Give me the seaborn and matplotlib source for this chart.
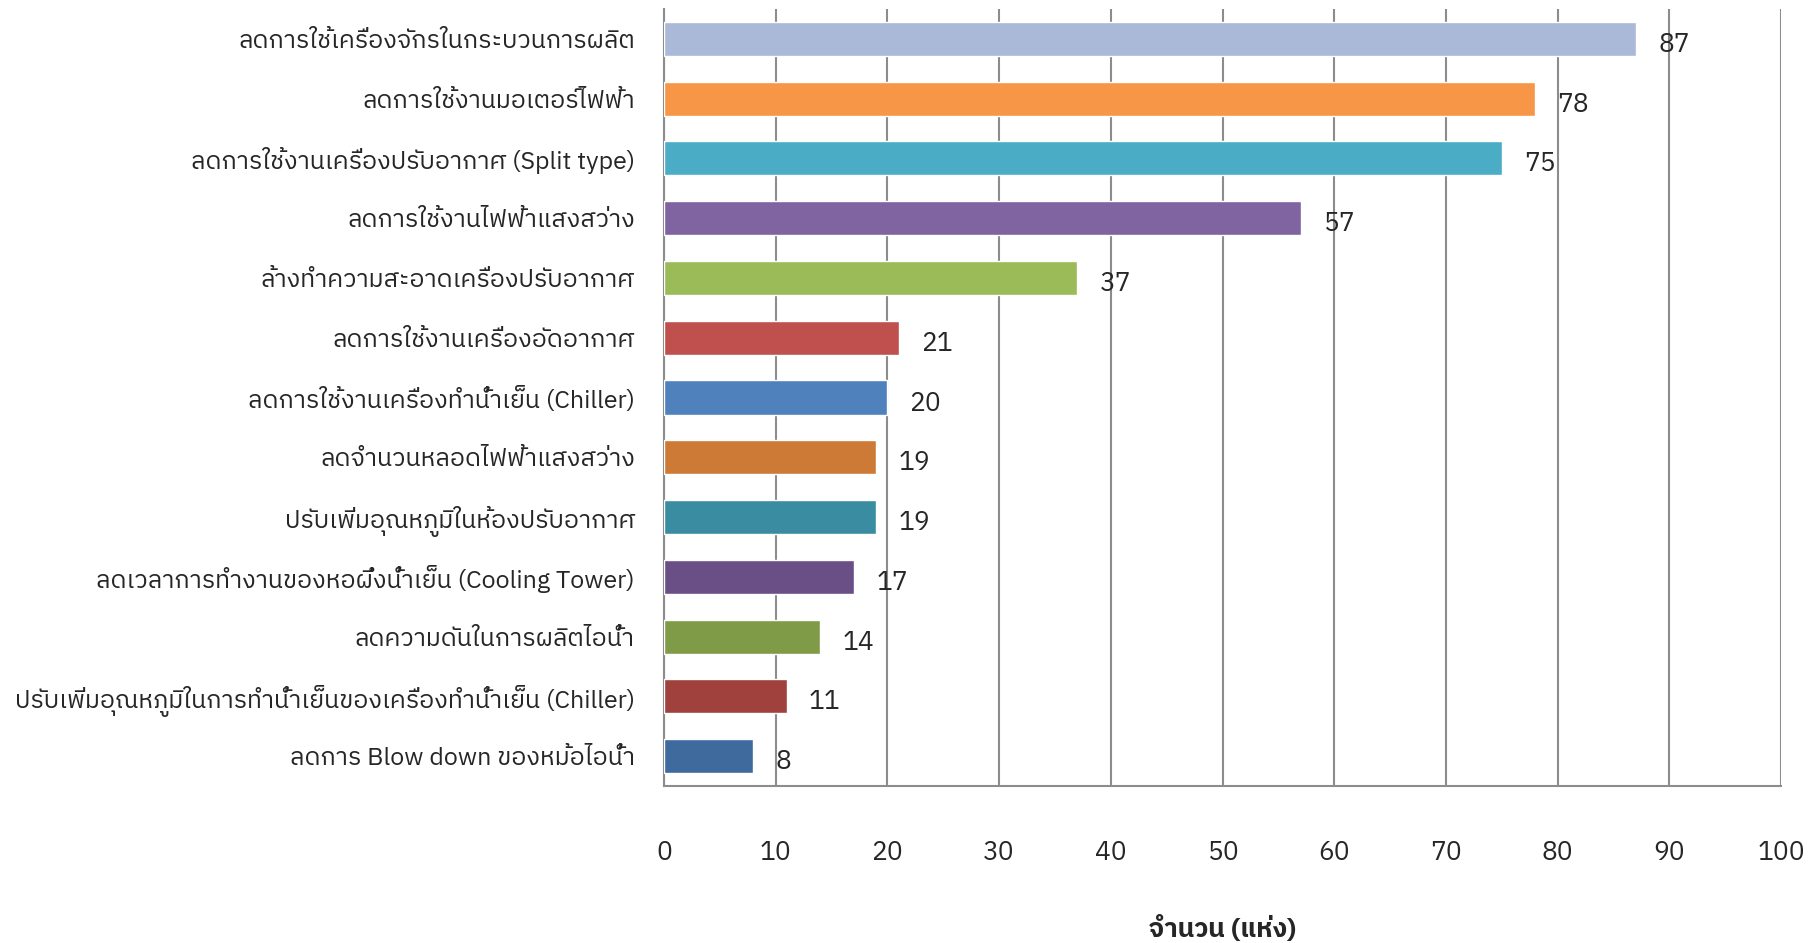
import matplotlib
matplotlib.use("Agg")
import matplotlib.pyplot as plt
import seaborn as sns
import pandas as pd
from matplotlib import font_manager, ft2font

categories = [
    "ลดการใช้เครื่องจักรในกระบวนการผลิต",
    "ลดการใช้งานมอเตอร์ไฟฟ้า",
    "ลดการใช้งานเครื่องปรับอากาศ (Split type)",
    "ลดการใช้งานไฟฟ้าแสงสว่าง",
    "ล้างทำความสะอาดเครื่องปรับอากาศ",
    "ลดการใช้งานเครื่องอัดอากาศ",
    "ลดการใช้งานเครื่องทำน้ำเย็น (Chiller)",
    "ลดจำนวนหลอดไฟฟ้าแสงสว่าง",
    "ปรับเพิ่มอุณหภูมิในห้องปรับอากาศ",
    "ลดเวลาการทำงานของหอผึ่งน้ำเย็น (Cooling Tower)",
    "ลดความดันในการผลิตไอน้ำ",
    "ปรับเพิ่มอุณหภูมิในการทำน้ำเย็นของเครื่องทำน้ำเย็น (Chiller)",
    "ลดการ Blow down ของหม้อไอน้ำ",
]
values = [87, 78, 75, 57, 37, 21, 20, 19, 19, 17, 14, 11, 8]
colors = ["#A9B9D7", "#F79646", "#4BACC6", "#8064A2", "#9BBB59", "#C0504D",
          "#4F81BD", "#CE7A37", "#3A8DA1", "#6A4F87", "#7F9B48", "#A0413E", "#3F6A9E"]
xticks = [0, 10, 20, 30, 40, 50, 60, 70, 80, 90, 100]
xlabel = "จำนวน (แห่ง)"

# find a font with Thai glyphs
thai_font = None
for fe in font_manager.fontManager.ttflist:
    try:
        f = ft2font.FT2Font(fe.fname)
        cm = f.get_charmap()
        if 0x0E01 in cm and 0x0E33 in cm:
            thai_font = fe.name
            if "Sans" in fe.name:
                break
    except Exception:
        pass

sns.set_style("white")
fam = [thai_font, "DejaVu Sans"] if thai_font else ["DejaVu Sans"]
plt.rcParams["font.family"] = fam

df = pd.DataFrame({"cat": categories, "val": values})

fig = plt.figure(figsize=(18.18, 9.43), dpi=100)
ax = fig.add_axes([664 / 1818, 1 - 786 / 943, (1781 - 664) / 1818, (786 - 9) / 943])
sns.barplot(data=df, x="val", y="cat", hue="cat", palette=colors, orient="h",
            width=0.57, legend=False, ax=ax, saturation=1, dodge=False, zorder=3)

ax.set_xlim(0, 100)
ax.set_ylim(12.5, -0.5)
ax.set_xticks(xticks)
ax.set_xticklabels([str(t) for t in xticks], fontsize=19)
ax.tick_params(axis="x", length=0, pad=39)
ax.tick_params(axis="y", length=0, pad=21, labelsize=18)
ax.grid(axis="x", color="#8C8C8C", linewidth=1.5, zorder=0)
ax.grid(axis="y", visible=False)
ax.set_axisbelow(True)
for s in ["top", "right"]:
    ax.spines[s].set_visible(False)
for s in ["left", "bottom"]:
    ax.spines[s].set_color("#8C8C8C")
    ax.spines[s].set_linewidth(1.5)
ax.set_ylabel("")
ax.set_xlabel(xlabel, fontsize=19, fontweight="bold", labelpad=36)

for i, v in enumerate(values):
    ax.annotate(str(v), xy=(v, i), xytext=(16, -4), textcoords="offset points",
                ha="left", va="center", fontsize=19, zorder=5)

fig.savefig("out.png", dpi=100)
